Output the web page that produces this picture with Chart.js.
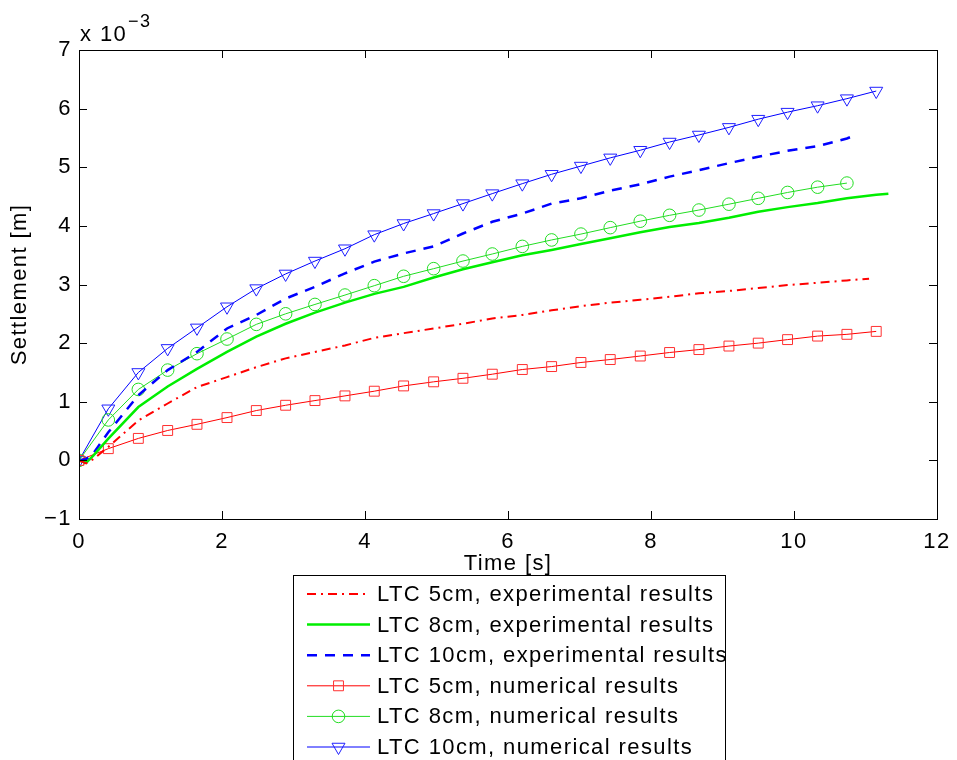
<!DOCTYPE html>
<html>
<head>
<meta charset="utf-8">
<script src="https://cdn.jsdelivr.net/npm/chart.js@4.4.1/dist/chart.umd.min.js"></script>
<style>
  html, body { margin: 0; padding: 0; background: #fff; }
  #wrap { width: 957px; height: 760px; }
</style>
</head>
<body>
<div id="wrap"><canvas id="settleChart" width="957" height="760"></canvas></div>
<script>
// settlement values are in units of 10^-3 m
const xTicks = [0, 2, 4, 6, 8, 10, 12];
const yTicks = [-1, 0, 1, 2, 3, 4, 5, 6, 7];

const tNum = [0, 0.41, 0.83, 1.24, 1.65, 2.07, 2.48, 2.89, 3.30, 3.72, 4.13, 4.54, 4.96, 5.37,
  5.78, 6.20, 6.61, 7.02, 7.43, 7.85, 8.26, 8.67, 9.09, 9.50, 9.91, 10.33, 10.74, 11.15];

const num5 = [0, 0.20, 0.375, 0.51, 0.615, 0.73, 0.85, 0.94, 1.02, 1.10, 1.18, 1.27, 1.34, 1.40,
  1.47, 1.55, 1.60, 1.67, 1.72, 1.78, 1.84, 1.89, 1.95, 2.00, 2.06, 2.12, 2.15, 2.20];
const num8 = [0, 0.69, 1.21, 1.54, 1.82, 2.07, 2.32, 2.50, 2.66, 2.82, 2.98, 3.14, 3.27, 3.40,
  3.52, 3.65, 3.76, 3.86, 3.97, 4.08, 4.18, 4.27, 4.37, 4.47, 4.57, 4.66, 4.73];
const num10 = [0, 0.88, 1.50, 1.91, 2.26, 2.62, 2.93, 3.18, 3.40, 3.61, 3.85, 4.04, 4.21, 4.38,
  4.55, 4.72, 4.88, 5.02, 5.16, 5.29, 5.43, 5.55, 5.68, 5.82, 5.94, 6.05, 6.17, 6.30];

const tExp5 = [0, 0.1, 0.2, 0.41, 0.83, 1.24, 1.65, 2.07, 2.48, 2.89, 3.30, 3.72, 4.13, 4.54, 4.96,
  5.37, 5.78, 6.20, 6.61, 7.02, 7.43, 7.85, 8.26, 8.67, 9.09, 9.50, 9.91, 10.33, 10.74, 11.05];
const exp5 = [0, -0.05, 0.02, 0.23, 0.68, 0.97, 1.25, 1.42, 1.59, 1.74, 1.85, 1.96, 2.09, 2.17, 2.25,
  2.33, 2.42, 2.48, 2.56, 2.63, 2.69, 2.74, 2.79, 2.85, 2.89, 2.94, 2.99, 3.03, 3.07, 3.10];

const tExp8 = [0, 0.1, 0.2, 0.41, 0.83, 1.24, 1.65, 2.07, 2.48, 2.89, 3.30, 3.72, 4.13, 4.54, 4.96,
  5.37, 5.78, 6.20, 6.61, 7.02, 7.43, 7.85, 8.26, 8.67, 9.09, 9.50, 9.91, 10.33, 10.74, 11.15, 11.32];
const exp8 = [0, -0.04, 0.08, 0.37, 0.91, 1.26, 1.56, 1.85, 2.11, 2.33, 2.52, 2.69, 2.84, 2.96, 3.12,
  3.26, 3.38, 3.50, 3.59, 3.69, 3.79, 3.89, 3.98, 4.05, 4.14, 4.24, 4.32, 4.39, 4.47, 4.53, 4.55];

const tExp10 = [0, 0.1, 0.2, 0.41, 0.83, 1.24, 1.65, 2.07, 2.48, 2.89, 3.30, 3.72, 4.13, 4.54, 4.96,
  5.37, 5.78, 6.20, 6.61, 7.02, 7.43, 7.85, 8.26, 8.67, 9.09, 9.50, 9.91, 10.33, 10.74, 10.82];
const exp10 = [0, 0.02, 0.12, 0.48, 1.11, 1.54, 1.85, 2.25, 2.48, 2.76, 2.96, 3.19, 3.39, 3.53, 3.65,
  3.87, 4.07, 4.21, 4.38, 4.47, 4.60, 4.71, 4.84, 4.95, 5.07, 5.18, 5.28, 5.36, 5.49, 5.53];

const labels = [
  'LTC 5cm, experimental results',
  'LTC 8cm, experimental results',
  'LTC 10cm, experimental results',
  'LTC 5cm, numerical results',
  'LTC 8cm, numerical results',
  'LTC 10cm, numerical results'
];

function pts(xs, ys) {
  return ys.map(function (y, i) { return {x: xs[i], y: y}; });
}

const FONT = 'Liberation Sans, Arial, Helvetica, sans-serif';
const SPACING = '1.4px';

// inward ticks, full box, exponent label and legend box
const matlabLook = {
  id: 'matlabLook',
  beforeLayout(chart) { chart.ctx.letterSpacing = SPACING; },
  beforeDraw(chart) { chart.ctx.letterSpacing = SPACING; },
  afterDraw(chart) {
    const ctx = chart.ctx;
    const a = chart.chartArea;
    const xs = chart.scales.x, ys = chart.scales.y;
    ctx.save();
    ctx.letterSpacing = SPACING;
    ctx.strokeStyle = '#000';
    ctx.lineWidth = 1;
    ctx.beginPath();
    xTicks.forEach(function (v) {
      const px = Math.round(xs.getPixelForValue(v)) + 0.5;
      ctx.moveTo(px, a.bottom); ctx.lineTo(px, a.bottom - 8);
      ctx.moveTo(px, a.top); ctx.lineTo(px, a.top + 8);
    });
    yTicks.forEach(function (v) {
      const py = Math.round(ys.getPixelForValue(v)) + 0.5;
      ctx.moveTo(a.left, py); ctx.lineTo(a.left + 8, py);
      ctx.moveTo(a.right, py); ctx.lineTo(a.right - 8, py);
    });
    ctx.stroke();
    ctx.strokeRect(Math.round(a.left) + 0.5, Math.round(a.top) + 0.5,
      Math.round(a.right - a.left), Math.round(a.bottom - a.top));

    // x 10^-3
    ctx.fillStyle = '#000';
    ctx.textBaseline = 'alphabetic';
    ctx.textAlign = 'left';
    ctx.font = '22px ' + FONT;
    ctx.fillText('x 10', a.left + 1, 41);
    ctx.font = '18px ' + FONT;
    ctx.fillText('\u22123', a.left + 49, 27);

    // legend
    const lx = 293, ly = 575, lw = 432;
    ctx.fillStyle = '#fff';
    ctx.fillRect(lx, ly, lw, 200);
    ctx.strokeRect(lx + 0.5, ly + 0.5, lw, 200);
    ctx.font = '22px ' + FONT;
    ctx.textBaseline = 'middle';
    chart.data.datasets.forEach(function (ds, i) {
      const cy = 594 + i * 30.6;
      ctx.save();
      ctx.strokeStyle = ds.borderColor;
      ctx.lineWidth = ds.borderWidth;
      ctx.setLineDash(ds.borderDash || []);
      ctx.beginPath();
      ctx.moveTo(307, cy); ctx.lineTo(370, cy);
      ctx.stroke();
      ctx.setLineDash([]);
      if (ds.pointRadius > 0) {
        ctx.lineWidth = 1;
        ctx.strokeStyle = ds.pointBorderColor;
        ctx.fillStyle = 'rgba(0,0,0,0)';
        Chart.helpers.drawPoint(ctx, {
          pointStyle: ds.pointStyle, rotation: ds.pointRotation || 0,
          radius: ds.pointRadius, borderWidth: 1
        }, 338.5, cy);
      }
      ctx.restore();
      ctx.fillStyle = '#000';
      ctx.fillText(ds.label, 377, cy + 1);
    });
    ctx.restore();
  }
};

const ctx = document.getElementById('settleChart');
const settleChart = new Chart(ctx, {
  type: 'line',
  data: {
    datasets: [{
      label: labels[0], data: pts(tExp5, exp5),
      borderColor: '#ff0000', borderWidth: 2, borderDash: [9, 5, 2, 5],
      pointRadius: 0
    }, {
      label: labels[1], data: pts(tExp8, exp8),
      borderColor: '#00ee00', borderWidth: 2.5,
      pointRadius: 0
    }, {
      label: labels[2], data: pts(tExp10, exp10),
      borderColor: '#0000ff', borderWidth: 2.5, borderDash: [10, 8],
      pointRadius: 0
    }, {
      label: labels[3], data: pts(tNum, num5),
      borderColor: '#ff0000', borderWidth: 1,
      pointStyle: 'rect', pointRadius: 7, pointBorderWidth: 1,
      pointBackgroundColor: 'transparent', pointBorderColor: '#ff3030'
    }, {
      label: labels[4], data: pts(tNum.slice(0, num8.length), num8),
      borderColor: '#22dd22', borderWidth: 1,
      pointStyle: 'circle', pointRadius: 6.3, pointBorderWidth: 1,
      pointBackgroundColor: 'transparent', pointBorderColor: '#22dd22'
    }, {
      label: labels[5], data: pts(tNum, num10),
      borderColor: '#0000ff', borderWidth: 1,
      pointStyle: 'triangle', pointRotation: 180, pointRadius: 7.5, pointBorderWidth: 1,
      pointBackgroundColor: 'transparent', pointBorderColor: '#2020ff'
    }]
  },
  options: {
    responsive: false,
    animation: false,
    layout: { padding: { left: 0, right: 20, top: 50, bottom: 185 } },
    plugins: { legend: { display: false }, tooltip: { enabled: false } },
    elements: { line: { tension: 0 } },
    scales: {
      x: {
        type: 'linear', min: 0, max: 12,
        afterBuildTicks: function (s) { s.ticks = xTicks.map(function (v) { return {value: v}; }); },
        afterFit: function (s) { s.height = 56; s.paddingLeft = 0; s.paddingRight = 0; },
        grid: { display: false, drawTicks: false },
        border: { display: false },
        ticks: { padding: 10, color: '#000', font: { family: FONT, size: 22 }, maxRotation: 0 },
        title: { display: true, text: 'Time [s]', color: '#000', padding: { top: 0, bottom: -2 },
          font: { family: FONT, size: 22 } }
      },
      y: {
        type: 'linear', min: -1, max: 7,
        afterBuildTicks: function (s) { s.ticks = yTicks.map(function (v) { return {value: v}; }); },
        afterFit: function (s) { s.width = 79; s.paddingTop = 0; s.paddingBottom = 0; },
        grid: { display: false, drawTicks: false },
        border: { display: false },
        ticks: { padding: 7, color: '#000', font: { family: FONT, size: 22 },
          callback: function (v) { return v < 0 ? '\u2212' + Math.abs(v) : String(v); } },
        title: { display: true, text: 'Settlement [m]', color: '#000', padding: { top: 7 },
          font: { family: FONT, size: 22 } }
      }
    }
  },
  plugins: [matlabLook]
});
</script>
</body>
</html>
